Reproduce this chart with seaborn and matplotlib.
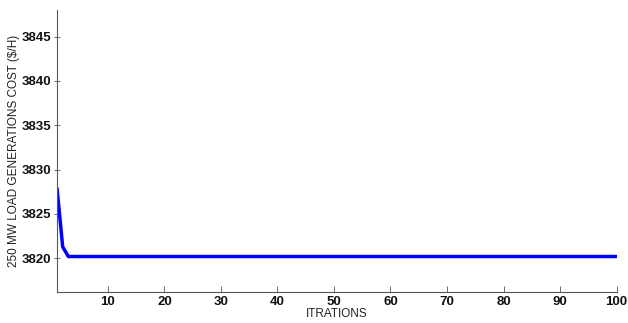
import matplotlib
matplotlib.use("Agg")
import matplotlib.pyplot as plt
import seaborn as sns
import pandas as pd

# Data
iterations = list(range(1, 101))
early_cost = [3827.9, 3821.3]
converged_cost = 3820.2
cost = early_cost + [converged_cost] * (len(iterations) - len(early_cost))

x_ticks = [10, 20, 30, 40, 50, 60, 70, 80, 90, 100]
y_ticks = [3820, 3825, 3830, 3835, 3840, 3845]

df = pd.DataFrame({"ITRATIONS": iterations, "cost": cost})

sns.set_theme(style="white")
plt.rcParams['font.family'] = ['Liberation Sans', 'DejaVu Sans']

fig = plt.figure(figsize=(6.28, 3.23), dpi=100)
ax = fig.add_axes([0.0908, 0.096, 0.891, 0.873])
sns.lineplot(data=df, x="ITRATIONS", y="cost", color="#0000ff", linewidth=2.5, ax=ax)

ax.set_xlim(1, 100)
ax.set_ylim(3816.2, 3848.0)
ax.set_xticks(x_ticks)
ax.set_yticks(y_ticks)
ax.set_xticklabels([str(t) for t in x_ticks], fontsize=9.5, fontweight="bold")
ax.set_yticklabels([str(t) for t in y_ticks], fontsize=9.5, fontweight="bold")
ax.set_xlabel("ITRATIONS", fontsize=8.5, labelpad=0, color="#222222")
ax.set_ylabel("250 MW LOAD GENERATIONS COST ($/H)", fontsize=8.5, labelpad=1, color="#222222")

for s in ["top", "right"]:
    ax.spines[s].set_visible(False)
for s in ["left", "bottom"]:
    ax.spines[s].set_color("#555555")
    ax.spines[s].set_linewidth(0.8)
ax.tick_params(axis="x", direction="in", length=4, width=0.6, color="#555555",
               bottom=True, pad=3, labelcolor="#111111")
ax.tick_params(axis="y", direction="inout", length=4, width=0.6, color="#555555",
               left=True, pad=2, labelcolor="#111111")

fig.savefig("out.png", dpi=100)
